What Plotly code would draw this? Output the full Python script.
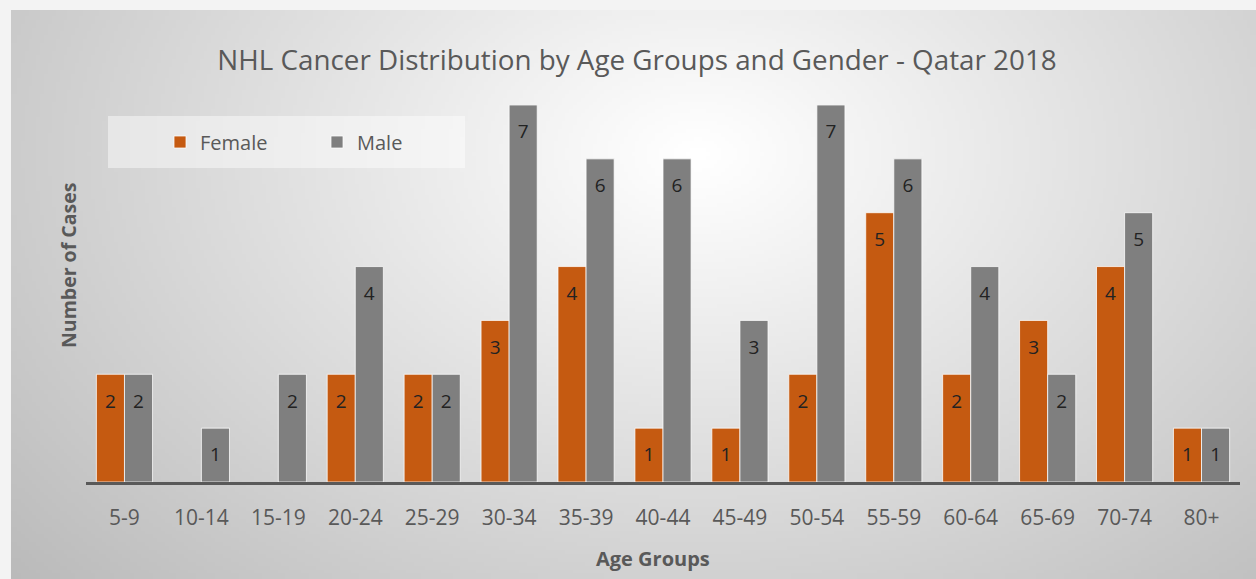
import base64
import struct
import zlib

import numpy as np
import plotly.graph_objects as go

# ---------------- data ----------------
age_groups = ["5-9", "10-14", "15-19", "20-24", "25-29", "30-34", "35-39", "40-44",
              "45-49", "50-54", "55-59", "60-64", "65-69", "70-74", "80+"]
female = [2, 0, 0, 2, 2, 3, 4, 1, 1, 2, 5, 2, 3, 4, 1]
male = [2, 1, 2, 4, 2, 7, 6, 6, 3, 7, 6, 4, 2, 5, 1]

FEMALE_COLOR = "#C55A11"
MALE_COLOR = "#7F7F7F"
TEXT_COLOR = "#595959"
FONT = "Open Sans"

W, H = 1256, 579
# plot area in pixels
PL, PR, PT, PB = 86, 1240, 105, 482
PW, PH = PR - PL, PB - PT


def px_to_paper_x(px):
    return (px - PL) / PW


def px_to_paper_y(py):
    return (PB - py) / PH


# ---------------- radial gradient background ----------------
def gradient_png():
    gw, gh = 320, 146
    yy, xx = np.mgrid[0:gh, 0:gw].astype(float)
    cx, cy = 0.55 * gw, 0.25 * gh
    d = np.sqrt(((xx - cx) / (0.8 * gw)) ** 2 + ((yy - cy) / (1.2 * gh)) ** 2)
    v = np.clip(256 - 75 * d, 0, 255).astype(np.uint8)
    raw = b"".join(b"\x00" + v[r].tobytes() for r in range(gh))

    def chunk(t, dat):
        c = t + dat
        return struct.pack(">I", len(dat)) + c + struct.pack(">I", zlib.crc32(c) & 0xFFFFFFFF)

    png = (b"\x89PNG\r\n\x1a\n"
           + chunk(b"IHDR", struct.pack(">IIBBBBB", gw, gh, 8, 0, 0, 0, 0))
           + chunk(b"IDAT", zlib.compress(raw, 9))
           + chunk(b"IEND", b""))
    return "data:image/png;base64," + base64.b64encode(png).decode()


def label_list(vals):
    return [str(v) if v else "" for v in vals]


fig = go.Figure()
for name, vals, color in (("Female", female, FEMALE_COLOR), ("Male", male, MALE_COLOR)):
    fig.add_trace(go.Bar(name=name, x=age_groups, y=vals, marker_color=color,
                         marker_line=dict(color="rgba(255,255,255,0.75)",
                                          width=[1 if v else 0 for v in vals]),
                         hoverinfo="skip"))

# data labels placed just inside the bar tops
for vals in (female, male):
    fig.add_trace(go.Scatter(x=age_groups, y=[v - 0.53 for v in vals], mode="text",
                             text=label_list(vals), showlegend=False, hoverinfo="skip",
                             textfont=dict(family=FONT, size=19, color="#222222")))

fig.update_layout(
    width=W, height=H,
    margin=dict(l=PL, r=W - PR, t=PT, b=H - PB),
    paper_bgcolor="#f3f3f3",
    plot_bgcolor="rgba(0,0,0,0)",
    barmode="group", bargap=0.27, bargroupgap=0.0,
    scattermode="group", scattergap=0.27,
    font=dict(family=FONT, color=TEXT_COLOR),
    title=dict(text="NHL Cancer Distribution by Age Groups and Gender - Qatar 2018",
               x=637 / W, y=1 - 60 / H, xanchor="center", yanchor="middle",
               font=dict(family=FONT, size=27.8, color=TEXT_COLOR)),
    showlegend=True,
    legend=dict(orientation="h", x=px_to_paper_x(160), y=px_to_paper_y(142),
                xanchor="left", yanchor="middle", bgcolor="rgba(0,0,0,0)",
                entrywidth=112, traceorder="normal",
                font=dict(family=FONT, size=20, color=TEXT_COLOR)),
    xaxis=dict(showgrid=False, showline=True, linecolor=TEXT_COLOR, linewidth=3,
               ticks="", tickfont=dict(family=FONT, size=21, color=TEXT_COLOR),
               ticklabelstandoff=15, zeroline=False),
    yaxis=dict(range=[0, 7], showgrid=False, showticklabels=False, zeroline=False,
               showline=False, ticks=""),
)

fig.add_layout_image(dict(
    source=gradient_png(), xref="paper", yref="paper",
    x=px_to_paper_x(11), y=px_to_paper_y(10),
    sizex=(W - 11) / PW, sizey=(H - 10) / PH,
    xanchor="left", yanchor="top", sizing="stretch", layer="below"))

# legend backdrop
fig.add_shape(type="rect", xref="paper", yref="paper",
              x0=px_to_paper_x(108), x1=px_to_paper_x(465),
              y0=px_to_paper_y(168), y1=px_to_paper_y(116),
              fillcolor="rgba(255,255,255,0.45)", line=dict(width=0), layer="below")

fig.add_annotation(text="Number of Cases", textangle=-90, xref="paper", yref="paper",
                   x=px_to_paper_x(68), y=px_to_paper_y(266), showarrow=False,
                   xanchor="center", yanchor="middle",
                   font=dict(family=FONT, size=19.5, color=TEXT_COLOR, weight="bold"))
fig.add_annotation(text="Age Groups", xref="paper", yref="paper",
                   x=px_to_paper_x(653), y=px_to_paper_y(558), showarrow=False,
                   xanchor="center", yanchor="middle",
                   font=dict(family=FONT, size=20, color=TEXT_COLOR, weight="bold"))

fig.write_html("out.html")
